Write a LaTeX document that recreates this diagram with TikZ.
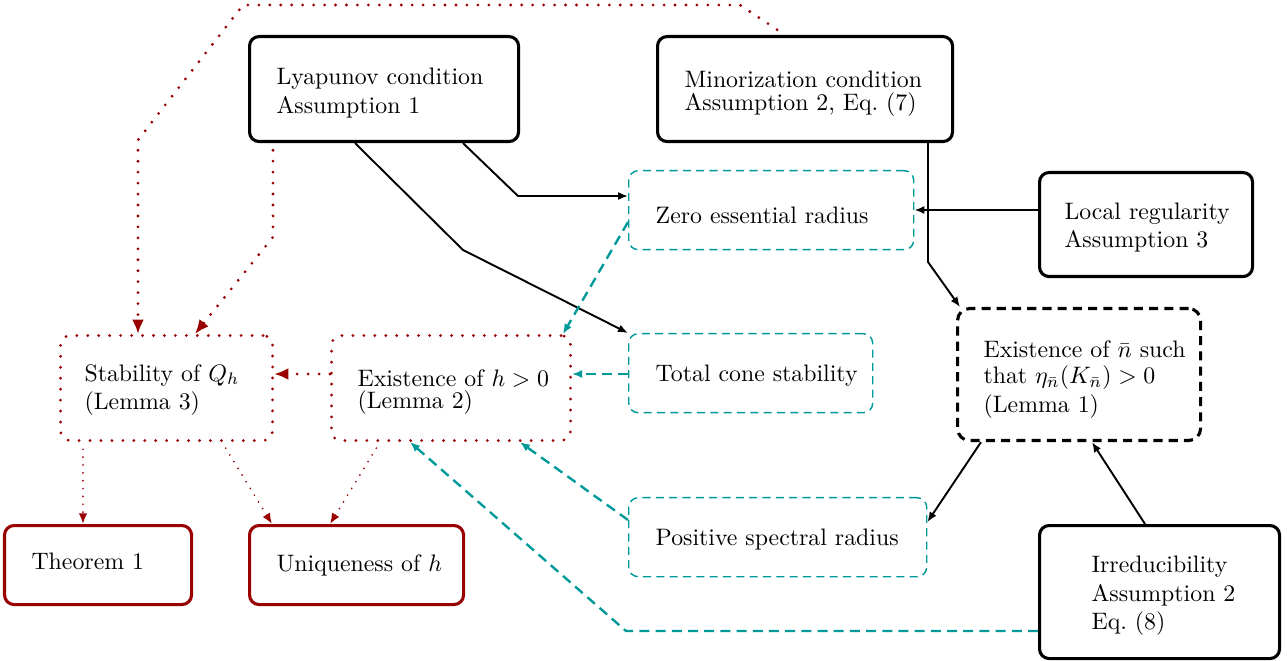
\documentclass[tikz,border=0pt]{standalone}
\usetikzlibrary{arrows.meta}
\definecolor{dred}{RGB}{153,0,0}
\definecolor{dteal}{RGB}{0,153,153}
\newcommand{\mkbox}[9]{%
  \pgfmathsetmacro{\mkbW}{(#4-#2)*0.42}%
  \pgfmathsetmacro{\mkbH}{(#5-#3)*0.42}%
  \pgfmathsetmacro{\mkbT}{(#4-#2-2*#6)*0.42}%
  \pgfmathsetmacro{\mkbP}{#6*0.42}%
  \node[#7, anchor=north west, minimum width=\mkbW pt, minimum height=\mkbH pt,
        text width=\mkbT pt, inner xsep=\mkbP pt, inner ysep=0pt, align=left] (#1) at (#2,#3) {\rule{0pt}{\dimexpr 6.9pt+#9\relax}#8};}
\tikzset{
  solidbox/.style={draw, line width=1.3pt, rounded corners=4pt},
  redbox/.style={draw=dred, line width=1.3pt, rounded corners=4pt},
  reddotbox/.style={draw=dred, line width=1.3pt, dash pattern=on 0pt off 4.6pt, line cap=round, rounded corners=4pt},
  tealbox/.style={draw=dteal, line width=0.6pt, dash pattern=on 3.4pt off 2.2pt, rounded corners=4pt},
  blackdashbox/.style={draw, line width=1.3pt, dash pattern=on 3.8pt off 2.6pt, rounded corners=5pt},
  arr/.style={line width=0.8pt, -{Latex[length=4.2pt,width=3.4pt]}},
  tarr/.style={draw=dteal, line width=1pt, dash pattern=on 4.2pt off 2.6pt, -{Latex[length=4.2pt,width=3.4pt]}},
  rarr/.style={draw=dred, line width=1.3pt, dash pattern=on 0pt off 4.6pt, line cap=round, -{Latex[length=6pt,width=5pt]}},
  rarrthin/.style={draw=dred, line width=0.8pt, dash pattern=on 0pt off 3.3pt, line cap=round, -{Latex[length=4.5pt,width=3.6pt]}},
}
\begin{document}
\begin{tikzpicture}[x=0.42pt, y=-0.42pt]
\useasboundingbox (0,0) rectangle (1287,661);
% boxes
\mkbox{lyap}{248}{35}{517}{140}{27}{solidbox}{\mbox{Lyapunov condition}\\Assumption 1}{3.4pt}
\mkbox{mino}{656}{35}{951}{140}{27}{solidbox}{\mbox{Minorization condition}\\[-2.5pt]\mbox{Assumption 2, Eq.~(7)}}{4.2pt}
\mkbox{zero}{628}{170}{913}{249}{27}{tealbox}{\mbox{Zero essential radius}}{4.2pt}
\mkbox{local}{1038}{171}{1251}{275}{25}{solidbox}{\mbox{Local regularity}\\Assumption 3}{2.5pt}
\mkbox{total}{628}{333}{872}{412}{27}{tealbox}{\mbox{Total cone stability}}{2.5pt}
\mkbox{nbar}{956}{307}{1199}{439}{26}{blackdashbox}{\mbox{Existence of $\bar n$ such}\\[-1pt]\mbox{that $\eta_{\bar n}(K_{\bar n})>0$}\\(Lemma 1)}{4.2pt}
\mkbox{stab}{59}{334}{271}{439}{24}{reddotbox}{\mbox{Stability of $Q_h$}\\(Lemma 3)}{1.7pt}
\mkbox{exh}{330}{334}{569}{439}{26}{reddotbox}{\mbox{Existence of $h>0$}\\[-2.5pt](Lemma 2)}{3.4pt}
\mkbox{pos}{628}{497}{926}{576}{27}{tealbox}{\mbox{Positive spectral radius}}{1.7pt}
\mkbox{thm}{3}{524}{190}{603}{27}{redbox}{Theorem 1\rule[-3.4pt]{0pt}{0pt}}{0pt}
\mkbox{uniq}{248}{524}{462}{603}{27}{redbox}{\mbox{Uniqueness of $h$}}{0.8pt}
\mkbox{irr}{1038}{524}{1278}{657}{52}{solidbox}{Irreducibility\\\mbox{Assumption 2}\\Eq.~(8)}{3.4pt}
% red dotted connectors
\draw[rarr, shorten <=4pt] (785,0 |- mino.north) -- (740,5) -- (243,5) -- (138,140) -- (138,0 |- stab.north);
\draw[rarr, shorten <=3pt] (273,0 |- lyap.south) -- (273,237) -- (195,0 |- stab.north);
\draw[rarr] (exh.west |- 0,374) -- (stab.east |- 0,374);
\draw[rarrthin, shorten <=3pt] (83,0 |- stab.south) -- (83,0 |- thm.north);
\draw[rarrthin, shorten <=3pt] (222,0 |- stab.south) -- (272,0 |- uniq.north);
\draw[rarrthin, shorten <=3pt] (380,0 |- exh.south) -- (330,0 |- uniq.north);
% black connectors
\draw[arr] (463,0 |- lyap.south) -- (518,196) -- (zero.west |- 0,196);
\draw[arr] (355,0 |- lyap.south) -- (463,250) -- (total.north west);
\draw[arr] (928,0 |- mino.south) -- (928,262) -- (960,0 |- nbar.north);
\draw[arr] (local.west |- 0,210) -- (zero.east |- 0,210);
\draw[arr] (981,0 |- nbar.south) -- (pos.east |- 0,522);
\draw[arr] (1145,0 |- irr.north) -- (1092,0 |- nbar.south);
% teal dashed connectors
\draw[tarr] (zero.west |- 0,222) -- (563,0 |- exh.north);
\draw[tarr] (total.west |- 0,374) -- (exh.east |- 0,374);
\draw[tarr] (pos.west |- 0,520) -- (520,0 |- exh.south);
\draw[tarr] (irr.west |- 0,631) -- (626,631) -- (410,0 |- exh.south);
\end{tikzpicture}
\end{document}
